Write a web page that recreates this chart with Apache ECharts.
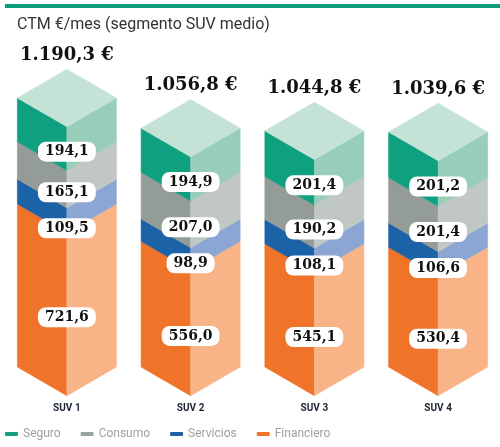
<!DOCTYPE html>
<html><head><meta charset="utf-8">
<script src="https://cdn.jsdelivr.net/npm/echarts@6/dist/echarts.min.js"></script>
<style>html,body{margin:0;padding:0;background:#fff}#c{width:500px;height:447px}</style>
</head><body><div id="c"></div>
<script>
const categories = ['SUV 1', 'SUV 2', 'SUV 3', 'SUV 4'];
const seguro = [194.1, 194.9, 201.4, 201.2];
const consumo = [165.1, 207.0, 190.2, 201.4];
const servicios = [109.5, 98.9, 108.1, 106.6];
const financiero = [721.6, 556.0, 545.1, 530.4];
const totals = [1190.3, 1056.8, 1044.8, 1039.6];
const legendNames = ['Seguro', 'Consumo', 'Servicios', 'Financiero'];

// stack order from bottom to top
const layers = [
  { name: 'Financiero', values: financiero, left: '#f0732a', right: '#f8b386', legend: '#f0742b' },
  { name: 'Servicios', values: servicios, left: '#1b62a6', right: '#8ba6d3', legend: '#1d62a6' },
  { name: 'Consumo', values: consumo, left: '#939c97', right: '#c1c7c4', legend: '#9aa39f' },
  { name: 'Seguro', values: seguro, left: '#0fa07f', right: '#97cdb9', legend: '#13a07f' }
];
const topColor = '#c4e2d5';
const BAR_RATIO = 0.4;      // half width as fraction of band
const DEPTH_RATIO = 0.58;   // isometric depth relative to half width

function fmt(v) { return v.toFixed(1).replace('.', ','); }
function fmtTotal(v) {
  const s = v.toFixed(1).split('.');
  const int = s[0].replace(/\B(?=(\d{3})+(?!\d))/g, '.');
  return int + ',' + s[1] + ' €';
}

function cumBase(layerIdx, i) {
  let b = 0;
  for (let k = 0; k < layerIdx; k++) b += layers[k].values[i];
  return b;
}

function geom(api, i, base, top) {
  const pc = api.coord([i, base]);
  const pt = api.coord([i, top]);
  const band = api.size([1, 0])[0];
  const hw = band * BAR_RATIO;
  const d = hw * DEPTH_RATIO;
  return { xc: pc[0], xl: pc[0] - hw, xr: pc[0] + hw, yb: pc[1], yt: pt[1], d: d };
}

function makeRender(li) {
  const L = layers[li];
  return function (params, api) {
    const i = api.value(0);
    const g = geom(api, i, api.value(1), api.value(2));
    const children = [
      { type: 'polygon', shape: { points: [[g.xl, g.yt], [g.xc, g.yt + g.d], [g.xc, g.yb + g.d], [g.xl, g.yb]] },
        style: { fill: L.left, stroke: L.left, lineWidth: 0.6 } },
      { type: 'polygon', shape: { points: [[g.xc, g.yt + g.d], [g.xr, g.yt], [g.xr, g.yb], [g.xc, g.yb + g.d]] },
        style: { fill: L.right, stroke: L.right, lineWidth: 0.6 } }
    ];
    if (li === layers.length - 1) {
      children.push({ type: 'polygon', shape: { points: [[g.xl, g.yt], [g.xc, g.yt - g.d], [g.xr, g.yt], [g.xc, g.yt + g.d]] },
        style: { fill: topColor, stroke: topColor, lineWidth: 0.6 } });
    }
    return { type: 'group', children: children };
  };
}

const series = layers.map(function (L, li) {
  return {
    name: L.name,
    type: 'custom',
    z: 2,
    itemStyle: { color: L.legend },
    renderItem: makeRender(li),
    encode: { x: 0, y: [1, 2] },
    silent: true,
    data: categories.map(function (c, i) {
      const b = cumBase(li, i);
      return [i, b, b + L.values[i]];
    })
  };
});

// label layer
series.push({
  type: 'custom',
  z: 10,
  silent: true,
  encode: { x: 0, y: 1 },
  data: categories.map(function (c, i) { return [i, totals[i]]; }),
  renderItem: function (params, api) {
    const i = api.value(0);
    const children = [];
    let prevY = -1e9;
    for (let li = layers.length - 1; li >= 0; li--) {
      const b = cumBase(li, i);
      const g = geom(api, i, b, b + layers[li].values[i]);
      let y = (g.yt + g.yb) / 2 + g.d + 3;
      if (y - prevY < 36) y = prevY + 36;
      prevY = y;
      children.push({
        type: 'text', x: g.xc, y: y,
        style: {
          text: fmt(layers[li].values[i]), fill: '#111',
          font: 'bold 14px "DejaVu Serif"', align: 'center', verticalAlign: 'middle',
          textAlign: 'center', textVerticalAlign: 'middle',
          backgroundColor: '#ffffff', borderRadius: 8, padding: [3, 7, 3, 7]
        }
      });
    }
    const gt = geom(api, i, 0, totals[i]);
    children.push({
      type: 'text', x: gt.xc, y: gt.yt - gt.d - 14,
      style: {
        text: fmtTotal(totals[i]), fill: '#111',
        font: 'bold 18px "DejaVu Serif"', align: 'center', verticalAlign: 'middle',
        textAlign: 'center', textVerticalAlign: 'middle'
      }
    });
    return { type: 'group', children: children };
  }
});

const chart = echarts.init(document.getElementById('c'));
chart.setOption({
  animation: false,
  title: {
    text: 'CTM €/mes (segmento SUV medio)', left: 12, top: 12,
    textStyle: { fontFamily: 'Roboto', fontWeight: 'normal', fontSize: 16, color: '#333' }
  },
  graphic: [{ type: 'rect', shape: { x: 5, y: 4, width: 495, height: 4 }, style: { fill: '#0a9e7d' } }],
  legend: {
    data: legendNames, left: 5, top: 428, padding: 0, icon: 'roundRect', itemWidth: 13, itemHeight: 4, itemGap: 20,
    selectedMode: false,
    textStyle: { color: '#a0a0a0', fontSize: 12, fontFamily: 'Roboto' }
  },
  grid: { left: 5, width: 496, top: 28, bottom: 80 },
  xAxis: {
    type: 'category', data: categories,
    axisLine: { show: false }, axisTick: { show: false }, splitLine: { show: false },
    axisLabel: { margin: 36, fontSize: 10, fontWeight: 'bold', color: '#1a2535', fontFamily: 'Roboto' }
  },
  yAxis: { type: 'value', min: 0, max: 1500, show: false, splitLine: { show: false } },
  series: series
});
</script>
</body></html>
